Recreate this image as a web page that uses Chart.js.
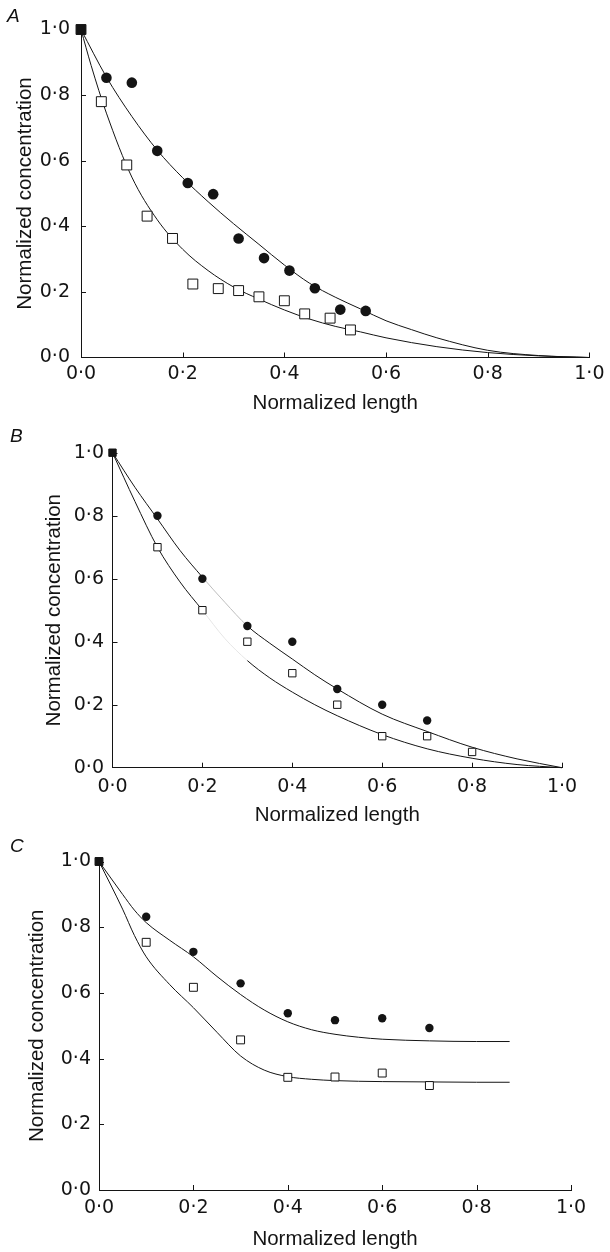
<!DOCTYPE html>
<html>
<head>
<meta charset="utf-8">
<script src="https://cdn.jsdelivr.net/npm/chart.js@4.4.1/dist/chart.umd.min.js"></script>
<style>
  html, body { margin: 0; padding: 0; background: #fff; }
  body { width: 610px; height: 1252px; position: relative; overflow: hidden; font-family: "Liberation Sans", Arial, sans-serif; }
  canvas { position: absolute; left: 0; }
  .letter { position: absolute; font-style: italic; font-size: 19px; line-height: 1; color: #111; z-index: 2; }
</style>
</head>
<body>
<div class="letter" style="left:7px;top:6px">A</div>
<div class="letter" style="left:10px;top:426px">B</div>
<div class="letter" style="left:10px;top:836px">C</div>
<canvas id="chartA" width="610" height="420" style="top:0px"></canvas>
<canvas id="chartB" width="610" height="410" style="top:420px"></canvas>
<canvas id="chartC" width="610" height="422" style="top:830px"></canvas>
<script>
const xTickLabels = ['0·0', '0·2', '0·4', '0·6', '0·8', '1·0'];
const yTickLabels = ['0·0', '0·2', '0·4', '0·6', '0·8', '1·0'];

// panel A
const aCircleX = [0, 0.05, 0.10, 0.15, 0.21, 0.26, 0.31, 0.36, 0.41, 0.46, 0.51, 0.56];
const aCircleY = [1.0, 0.853, 0.838, 0.63, 0.532, 0.498, 0.363, 0.303, 0.265, 0.211, 0.146, 0.142];
const aSquareX = [0, 0.04, 0.09, 0.13, 0.18, 0.22, 0.27, 0.31, 0.35, 0.40, 0.44, 0.49, 0.53];
const aSquareY = [1.0, 0.78, 0.587, 0.431, 0.363, 0.224, 0.21, 0.204, 0.185, 0.173, 0.133, 0.12, 0.084];
const aUpperX = [0, 0.05, 0.1, 0.15, 0.2, 0.25, 0.3, 0.35, 0.4, 0.45, 0.5, 0.55, 0.6, 0.65, 0.7, 0.8, 0.9, 1.0];
const aUpperY = [1, 0.855, 0.735, 0.632, 0.548, 0.475, 0.408, 0.345, 0.282, 0.226, 0.184, 0.148, 0.112, 0.085, 0.06, 0.022, 0.006, 0];
const aLowerX = [0, 0.02, 0.05, 0.1, 0.15, 0.2, 0.25, 0.3, 0.35, 0.4, 0.45, 0.5, 0.55, 0.6, 0.7, 0.8, 0.9, 1.0];
const aLowerY = [1, 0.89, 0.745, 0.55, 0.42, 0.33, 0.265, 0.215, 0.178, 0.145, 0.117, 0.095, 0.078, 0.06, 0.033, 0.015, 0.005, 0];

// panel B
const bCircleX = [0, 0.1, 0.2, 0.3, 0.4, 0.5, 0.6, 0.7];
const bCircleY = [1.0, 0.80, 0.60, 0.45, 0.40, 0.25, 0.20, 0.15];
const bSquareX = [0, 0.1, 0.2, 0.3, 0.4, 0.5, 0.6, 0.7, 0.8];
const bSquareY = [1.0, 0.70, 0.50, 0.40, 0.30, 0.20, 0.10, 0.10, 0.05];
const bCurveX = [0, 0.05, 0.1, 0.15, 0.2, 0.25, 0.3, 0.35, 0.4, 0.45, 0.5, 0.6, 0.7, 0.8, 0.9, 1.0];
const bUpperY = [1, 0.89, 0.79, 0.69, 0.605, 0.525, 0.45, 0.395, 0.345, 0.295, 0.25, 0.17, 0.115, 0.065, 0.028, 0];
const bLowerY = [1, 0.845, 0.70, 0.59, 0.50, 0.41, 0.34, 0.285, 0.24, 0.2, 0.165, 0.105, 0.06, 0.03, 0.01, 0];

// panel C
const cCircleX = [0, 0.1, 0.2, 0.3, 0.4, 0.5, 0.6, 0.7];
const cCircleY = [1.0, 0.832, 0.725, 0.629, 0.538, 0.517, 0.523, 0.493];
const cSquareX = [0, 0.1, 0.2, 0.3, 0.4, 0.5, 0.6, 0.7];
const cSquareY = [1.0, 0.754, 0.617, 0.457, 0.343, 0.344, 0.356, 0.318];
const cCurveX = [0, 0.05, 0.075, 0.1, 0.15, 0.2, 0.25, 0.3, 0.35, 0.4, 0.45, 0.5, 0.55, 0.6, 0.7, 0.8, 0.87];
const cUpperY = [1, 0.9, 0.852, 0.814, 0.76, 0.71, 0.65, 0.595, 0.548, 0.512, 0.488, 0.474, 0.465, 0.459, 0.454, 0.452, 0.452];
const cLowerY = [1, 0.855, 0.775, 0.71, 0.625, 0.555, 0.48, 0.408, 0.365, 0.345, 0.337, 0.333, 0.331, 0.33, 0.329, 0.328, 0.328];

const FONT = '"Liberation Sans", Arial, sans-serif';
const TICK_FONT = '"DejaVu Sans", "Liberation Sans", sans-serif';
const INK = '#141414';

const pts = (xs, ys) => xs.map((x, i) => ({x: x, y: ys[i]}));

// small tick marks pointing into the plot, like the original
const innerTicks = {
  id: 'innerTicks',
  afterDatasetsDraw(chart) {
    const {ctx, chartArea: a} = chart;
    const x = chart.scales.x, y = chart.scales.y;
    ctx.save();
    ctx.strokeStyle = INK;
    ctx.lineWidth = 1;
    ctx.beginPath();
    x.ticks.forEach(t => {
      if (t.value === 0) return;
      const px = Math.round(x.getPixelForValue(t.value)) + 0.5;
      ctx.moveTo(px, a.bottom);
      ctx.lineTo(px, a.bottom - 5);
    });
    y.ticks.forEach(t => {
      if (t.value === 0) return;
      const py = Math.round(y.getPixelForValue(t.value)) + 0.5;
      ctx.moveTo(a.left, py);
      ctx.lineTo(a.left + 5, py);
    });
    ctx.stroke();
    ctx.restore();
  }
};

function curve(data, fade) {
  return {
    data: data,
    showLine: true,
    pointRadius: 0,
    borderColor: INK,
    borderWidth: 1,
    cubicInterpolationMode: 'monotone',
    clip: false,
    segment: {
      borderColor: c => (fade && c.p0.parsed.x >= fade[0] - 1e-9 && c.p1.parsed.x <= fade[1] + 1e-9) ? fade[2] : INK
    }
  };
}

function panel(id, d, box) {
  return new Chart(document.getElementById(id), {
    type: 'scatter',
    data: {
      datasets: [
        {
          data: pts(d.squareX, d.squareY),
          pointStyle: 'rect',
          pointRadius: box.squareR,
          backgroundColor: c => c.dataIndex === 0 ? INK : '#fff',
          borderColor: INK,
          borderWidth: 1,
          clip: false
        },
        {
          data: pts(d.circleX, d.circleY),
          pointStyle: 'circle',
          pointRadius: c => c.dataIndex === 0 ? 0 : box.circleR,
          backgroundColor: INK,
          borderColor: INK,
          borderWidth: 0,
          clip: false
        },
        curve(pts(d.upperX, d.upperY), box.fadeUpper),
        curve(pts(d.lowerX, d.lowerY), box.fadeLower)
      ]
    },
    options: {
      responsive: false,
      animation: false,
      devicePixelRatio: 1,
      layout: { padding: { left: 0, right: 610 - box.right, top: box.top, bottom: 0 } },
      plugins: { legend: { display: false }, tooltip: { enabled: false } },
      scales: {
        x: {
          type: 'linear', min: 0, max: 1,
          ticks: {
            stepSize: 0.2, autoSkip: false, maxRotation: 0,
            callback: (v, i) => xTickLabels[i],
            font: { family: TICK_FONT, size: 19 }, color: INK, padding: box.xTickPad
          },
          grid: { display: false, drawTicks: false },
          border: { display: true, color: INK, width: 1 },
          title: {
            display: true, text: 'Normalized length', color: INK,
            font: { family: FONT, size: 20.5 }, padding: { top: 0, bottom: box.xTitlePad }
          },
          afterFit: s => { s.height = box.height - box.bottom; }
        },
        y: {
          type: 'linear', min: 0, max: 1,
          ticks: {
            stepSize: 0.2,
            callback: (v, i) => yTickLabels[i],
            font: { family: TICK_FONT, size: 19 }, color: INK, padding: box.yTickPad
          },
          grid: { display: false, drawTicks: false },
          border: { display: true, color: INK, width: 1 },
          title: {
            display: true, text: 'Normalized concentration', color: INK,
            font: { family: FONT, size: 20.5 }, padding: { top: box.yTitleOff, bottom: 0 }
          },
          afterFit: s => { s.width = box.left; }
        }
      }
    },
    plugins: [innerTicks]
  });
}

panel('chartA',
  { circleX: aCircleX, circleY: aCircleY, squareX: aSquareX, squareY: aSquareY,
    upperX: aUpperX, upperY: aUpperY, lowerX: aLowerX, lowerY: aLowerY },
  { left: 81, right: 594, top: 29.5, bottom: 357.5, height: 420,
    yTitleOff: 12.7, yTickPad: 11, xTickPad: 5.5, xTitlePad: 4.2, circleR: 5.3, squareR: 7 });

panel('chartB',
  { circleX: bCircleX, circleY: bCircleY, squareX: bSquareX, squareY: bSquareY,
    upperX: bCurveX, upperY: bUpperY, lowerX: bCurveX, lowerY: bLowerY },
  { left: 112.5, right: 562, top: 32.7, bottom: 347.7, height: 410,
    yTitleOff: 42.2, yTickPad: 8.5, xTickPad: 7.6, xTitlePad: 2.7, circleR: 4.2, squareR: 5.2,
    fadeUpper: [0.2, 0.3, '#bdbdbd'], fadeLower: [0.2, 0.3, '#e6e6e6'] });

panel('chartC',
  { circleX: cCircleX, circleY: cCircleY, squareX: cSquareX, squareY: cSquareY,
    upperX: cCurveX, upperY: cUpperY, lowerX: cCurveX, lowerY: cLowerY },
  { left: 99, right: 571, top: 31.5, bottom: 360, height: 422,
    yTitleOff: 24.7, yTickPad: 8, xTickPad: 6.6, xTitlePad: 0.7, circleR: 4.2, squareR: 5.6 });
</script>
</body>
</html>
